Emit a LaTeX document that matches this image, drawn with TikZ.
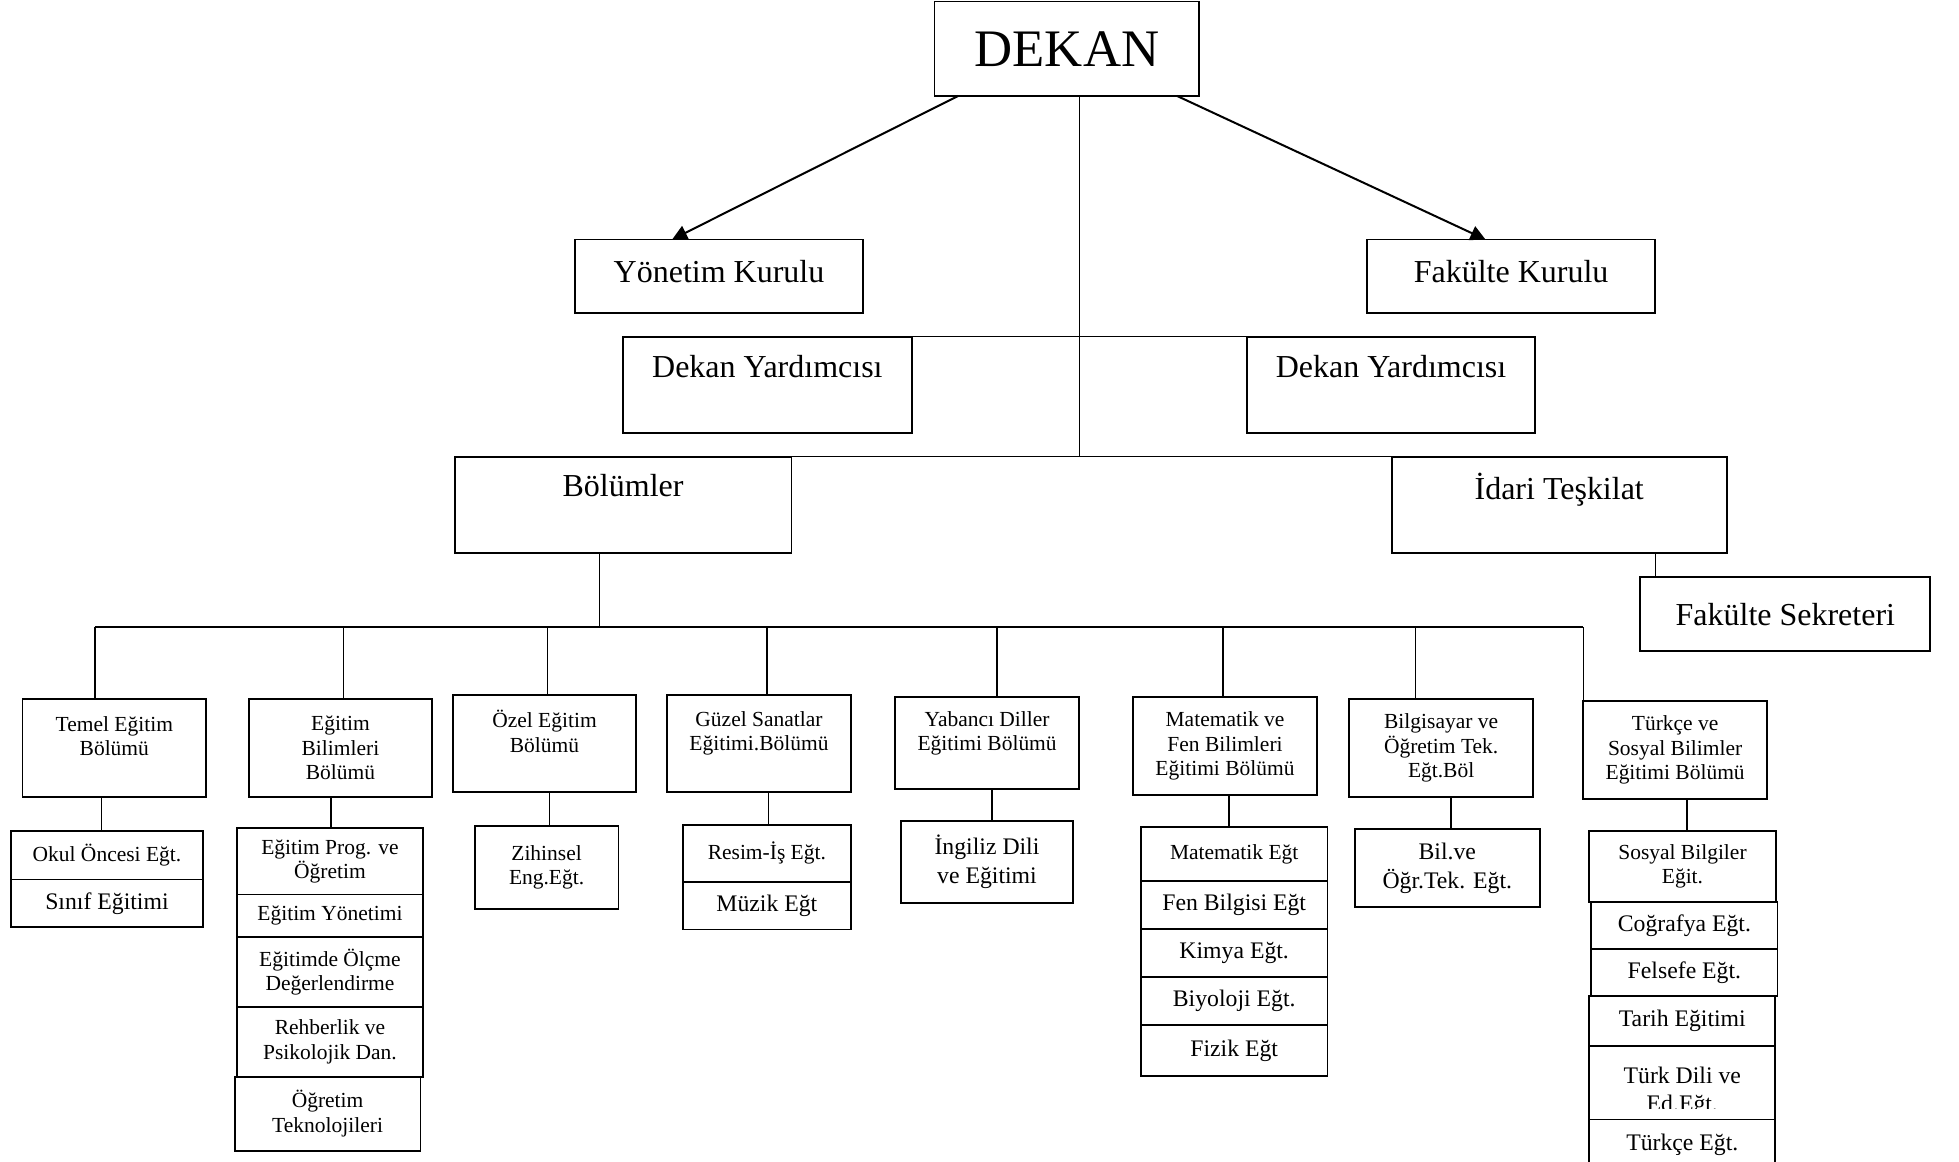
\documentclass[tikz,border=0pt]{standalone}
\usepackage{fontspec}
\setmainfont{Liberation Serif}
\usetikzlibrary{arrows.meta,positioning}
\tikzset{
  boxbase/.style={
    rectangle, draw=black, line width=0.75pt, fill=white,
    inner sep=1pt, outer sep=0pt, align=center
  },
  dean/.style ={boxbase, font=\fontsize{21.1}{25}\selectfont,
    minimum width=106pt, minimum height=37.75pt},
  board/.style={boxbase, font=\fontsize{12.8}{15.3}\selectfont,
    minimum width=115.5pt, minimum height=29.3pt},
  dept/.style ={boxbase, font=\fontsize{8.6}{9.8}\selectfont,
    minimum width=73.5pt, minimum height=39pt},
  sub/.style  ={boxbase, font=\fontsize{8.6}{9.8}\selectfont},
  subl/.style ={boxbase, font=\fontsize{9.5}{11.5}\selectfont},
  wire/.style ={line width=0.55pt},
  flow/.style ={-{Triangle[length=6pt,width=6pt]}, line width=0.8pt}
}
\begin{document}
\begin{tikzpicture}[x=0.5pt, y=-0.5pt]
  \useasboundingbox (0,0) rectangle (1568,930);

  % --- dean, boards, vice deans
  \node[dean] (dekan) at (854,39) {DEKAN};
  \node[board, text depth=4pt] (yonetim) at (575.5,221) {Yönetim Kurulu};
  \node[board, text depth=4pt] (fkurul)  at (1209.5,221) {Fakülte Kurulu};
  \node[board, minimum height=38.65pt] (dy1) at (614.2,308.2) {Dekan Yardımcısı\\\mbox{}};
  \node[board, minimum height=38.65pt] (dy2) at (1113.4,308.2) {Dekan Yardımcısı\\\mbox{}};
  \node[board, minimum width=134.8pt, minimum height=38.7pt] (bolum) at (498.7,404.2) {Bölümler\\\mbox{}};
  \node[board, minimum width=134pt, minimum height=38.7pt]   (idari) at (1248,404.2) {İdari Teşkilat\\\mbox{}};
  \node[board, minimum width=116pt, minimum height=29.5pt]   (sekreter) at (1429,491.5) {Fakülte Sekreteri};

  % --- departments
  \node[dept] (temel)  at (91.5,598.8)   {Temel Eğitim\\Bölümü\\\mbox{}};
  \node[dept] (egbil)  at (272.5,598.8)  {Eğitim\\Bilimleri\\Bölümü};
  \node[dept] (ozel)   at (435.8,595)    {Özel Eğitim\\Bölümü\\\mbox{}};
  \node[dept] (guzel)  at (607.5,595)    {Güzel Sanatlar\\Eğitimi.Bölümü\\\mbox{}};
  \node[dept, minimum width=73.7pt, minimum height=36.75pt] (yabanci) at (790.1,594.8) {Yabancı Diller\\Eğitimi Bölümü\\\mbox{}};
  \node[dept] (matfen) at (980.5,597.2)  {Matematik ve\\Fen Bilimleri\\Eğitimi Bölümü};
  \node[dept] (bilgi)  at (1153.5,598.8) {Bilgisayar ve\\Öğretim Tek.\\Eğt.Böl};
  \node[dept] (turkce) at (1340.8,600.3) {Türkçe ve\\Sosyal Bilimler\\Eğitimi Bölümü};

  % --- programmes under each department
  \node[sub,  minimum width=76.8pt, minimum height=19.5pt] (okul) at (85.6,684.5) {Okul Öncesi Eğt.};
  \node[subl, minimum width=76.8pt, minimum height=19pt, below=0pt of okul] (sinif) {Sınıf Eğitimi};

  \node[sub, minimum width=74.4pt, minimum height=26.5pt] (epo) at (264.1,689.5) {Eğitim Prog. ve\\Öğretim};
  \node[sub, minimum width=74.4pt, minimum height=17pt, below=0pt of epo]  (eyon) {Eğitim Yönetimi};
  \node[sub, minimum width=74.4pt, minimum height=28pt, below=0pt of eyon] (eolc) {Eğitimde Ölçme\\Değerlendirme};
  \node[sub, minimum width=74.4pt, minimum height=28pt, below=0pt of eolc] (rehb) {Rehberlik ve\\Psikolojik Dan.};
  \node[sub, minimum width=74.4pt, minimum height=29.5pt, below=0pt of rehb, xshift=-0.95pt] (ogtek) {Öğretim\\Teknolojileri};

  \node[sub, minimum width=57.5pt, minimum height=33.3pt] (zihin) at (437.5,694.2) {Zihinsel\\Eng.Eğt.};

  \node[sub,  minimum width=67.2pt, minimum height=23pt] (resim) at (613.8,683) {Resim-İş Eğt.};
  \node[subl, minimum width=67.2pt, minimum height=19pt, below=0pt of resim] (muzik) {Müzik Eğt};

  \node[subl, minimum width=68.75pt, minimum height=32.75pt] (ingiliz) at (790,689.75) {İngiliz Dili\\ve Eğitimi};

  \node[sub,  minimum width=74.65pt, minimum height=21.5pt] (mate) at (987.85,683.5) {Matematik Eğt};
  \node[subl, minimum width=74.65pt, minimum height=19.3pt, below=0pt of mate]  (fen)   {Fen Bilgisi Eğt};
  \node[subl, minimum width=74.65pt, minimum height=19.2pt, below=0pt of fen]   (kimya) {Kimya Eğt.};
  \node[subl, minimum width=74.65pt, minimum height=19.2pt, below=0pt of kimya] (biyo)  {Biyoloji Eğt.};
  \node[subl, minimum width=74.65pt, minimum height=20.3pt, below=0pt of biyo]  (fizik) {Fizik Eğt};

  \node[subl, minimum width=73.85pt, minimum height=31.25pt] (bilve) at (1158.45,694.75) {Bil.ve\\Öğr.Tek. Eğt.};

  \node[sub,  minimum width=74.65pt, minimum height=28.35pt] (sosyal) at (1346.65,693.35) {Sosyal Bilgiler\\Eğit.};
  \node[subl, minimum width=74.5pt, minimum height=18.9pt, below=0pt of sosyal, xshift=0.78pt] (cog) {Coğrafya Eğt.};
  \node[subl, minimum width=74.5pt, minimum height=19pt, below=0pt of cog] (fel) {Felsefe Eğt.};
  \node[subl, minimum width=74.5pt, minimum height=19.75pt, below=0pt of fel, xshift=-0.85pt] (tarih) {Tarih Eğitimi};
  \node[subl, minimum width=74.5pt, minimum height=27.2pt, text height=25.5pt, below=0pt of tarih] (tdil) {Türk Dili ve\\Ed.Eğt.};
  \fill[white] ([xshift=0.5pt,yshift=4.2pt]tdil.south west) rectangle ([xshift=-0.5pt]tdil.south east);
  \node[subl, minimum width=74.5pt, minimum height=20pt, below=0pt of tdil] (tkce) {Türkçe Eğt.};

  % --- arrows and lines
  \draw[flow] ([xshift=9.5pt]dekan.south west) -- ([xshift=-18.75pt]yonetim.north);
  \draw[flow] ([xshift=-9pt]dekan.south east)  -- ([xshift=-10.25pt]fkurul.north);
  \draw[wire] ([xshift=5pt]dekan.south) -- ([xshift=5pt]dekan.south |- bolum.north);
  \draw[wire] (dy1.north) -- (dy2.north);
  \draw[wire] (bolum.north) -- (idari.north);
  \draw[wire] ([xshift=105.5pt]idari.south west) -- ([xshift=105.5pt]idari.south west |- sekreter.north);

  \coordinate (busl) at (76,502);
  \coordinate (busr) at (1267,502);
  \draw[wire] (busl) -- (busr);
  \draw[wire] ([xshift=-9.35pt]bolum.south) -- ([xshift=-9.35pt]bolum.south |- busl);
  \foreach \d/\s in {temel/-7.75, egbil/1.25, ozel/1.25, guzel/3.25, yabanci/4,
                     matfen/-0.75, bilgi/-10.25, turkce/-36.75}
    \draw[wire] ([xshift=\s pt]\d.north) -- ([xshift=\s pt]\d.north |- busl);
  \foreach \d/\s/\c in {temel/-5.25/okul, egbil/-3.75/epo, ozel/2/zihin, guzel/3.75/resim,
                        yabanci/2/ingiliz, matfen/1.65/mate, bilgi/4/bilve, turkce/4.75/sosyal}
    \draw[wire] ([xshift=\s pt]\d.south) -- ([xshift=\s pt]\d.south |- \c.north);
\end{tikzpicture}
\end{document}
